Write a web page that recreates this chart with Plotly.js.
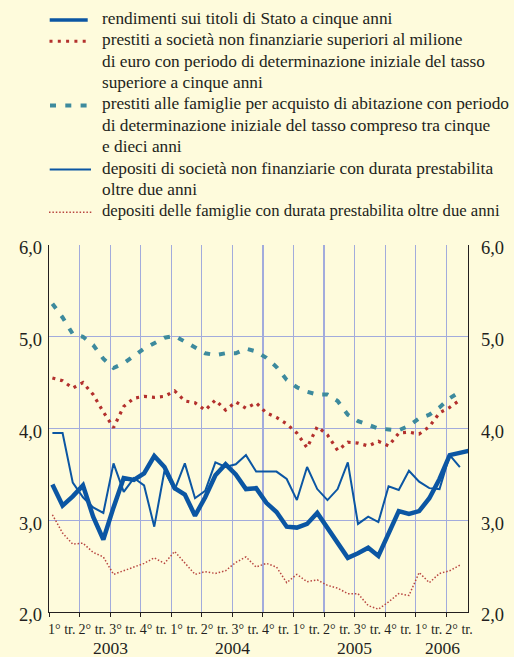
<!DOCTYPE html>
<html><head><meta charset="utf-8">
<script src="https://cdn.plot.ly/plotly-3.0.1.min.js"></script>
<style>html,body{margin:0;padding:0;background:#FEFBDC;}#chart{width:514px;height:657px;}</style>
</head><body><div id="chart"></div>
<script>
// Monthly data, Jan 2003 - Jun 2006 (percent)
const rendimentiTitoli = [3.39,3.16,3.26,3.38,3.04,2.79,3.14,3.46,3.44,3.51,3.70,3.58,3.35,3.28,3.05,3.25,3.49,3.61,3.50,3.34,3.35,3.19,3.09,2.93,2.92,2.96,3.08,2.91,2.76,2.59,2.64,2.70,2.61,2.85,3.10,3.07,3.10,3.24,3.45,3.71,3.74,3.76];
const prestitiSocieta = [4.55,4.52,4.44,4.50,4.37,4.18,4.01,4.24,4.33,4.35,4.34,4.35,4.41,4.30,4.28,4.20,4.31,4.20,4.29,4.22,4.28,4.17,4.12,4.05,3.95,3.79,4.02,3.93,3.76,3.85,3.84,3.81,3.86,3.81,3.95,3.96,3.94,4.02,4.17,4.23,4.31];
const prestitiFamiglie = [5.36,5.21,5.03,5.00,4.91,4.76,4.66,4.71,4.79,4.87,4.93,4.99,5.01,4.95,4.89,4.82,4.80,4.82,4.82,4.87,4.84,4.77,4.67,4.53,4.45,4.40,4.37,4.37,4.30,4.15,4.08,4.04,4.00,3.99,3.98,4.03,4.11,4.15,4.23,4.33,4.40];
const depositiSocieta = [3.95,3.95,3.41,3.25,3.14,3.08,3.62,3.31,3.46,3.38,2.93,3.54,3.33,3.62,3.24,3.32,3.63,3.58,3.61,3.71,3.53,3.53,3.53,3.45,3.22,3.58,3.34,3.22,3.34,3.63,2.96,3.04,2.98,3.37,3.33,3.54,3.42,3.35,3.34,3.71,3.58];
const depositiFamiglie = [3.06,2.86,2.74,2.75,2.65,2.60,2.41,2.45,2.49,2.53,2.59,2.53,2.66,2.53,2.41,2.44,2.42,2.45,2.54,2.60,2.49,2.53,2.49,2.32,2.41,2.33,2.35,2.29,2.26,2.20,2.20,2.07,2.03,2.11,2.20,2.18,2.43,2.32,2.42,2.45,2.51];

const quarterLabels = ["1° tr.","2° tr.","3° tr.","4° tr.","1° tr.","2° tr.","3° tr.","4° tr.","1° tr.","2° tr.","3° tr.","4° tr.","1° tr.","2° tr."];
const years = ["2003","2004","2005","2006"];
const yearCenters = [6, 18, 30, 38.65];
const yTicks = [2,3,4,5,6];

const legendLines = [
  "rendimenti sui titoli di Stato a cinque anni",
  "prestiti a società non finanziarie superiori al milione",
  "di euro con periodo di determinazione iniziale del tasso",
  "superiore a cinque anni",
  "prestiti alle famiglie per acquisto di abitazione con periodo",
  "di determinazione iniziale del tasso compreso tra cinque",
  "e dieci anni",
  "depositi di società non finanziarie con durata prestabilita",
  "oltre due anni",
  "depositi delle famiglie con durata prestabilita oltre due anni"
];

// layout geometry (pixels)
const L = 49, R = 46, T = 245, B = 45, WIDTH = 514, HEIGHT = 657;
const PW = WIDTH - L - R, PH = HEIGHT - T - B;
const px2x = p => (p - L) / PW;
const px2y = p => (T + PH - p) / PH;

const OFFSET = 1/3; // monthly points placed a third of a month into each month
const xOf = arr => arr.map((_, i) => i + OFFSET);

const BLUE = '#0B56A3', RED = '#B3302D', TEAL = '#3D8A9D', RED2 = '#B84640';
const TXT = '#231F20', GRID = '#A2ABDC';
const FONT = '"Liberation Serif", "Times New Roman", serif';

const traces = [
  {x: xOf(depositiFamiglie), y: depositiFamiglie, mode: 'lines', line: {color: RED2, width: 1.5, dash: '1.5px,1.9px'}},
  {x: xOf(prestitiFamiglie), y: prestitiFamiglie, mode: 'lines', line: {color: TEAL, width: 4, dash: '6px,9px'}},
  {x: xOf(prestitiSocieta), y: prestitiSocieta, mode: 'lines', line: {color: RED, width: 3.2, dash: '3px,5px'}},
  {x: xOf(depositiSocieta), y: depositiSocieta, mode: 'lines', line: {color: BLUE, width: 2}},
  {x: xOf(rendimentiTitoli), y: rendimentiTitoli, mode: 'lines', line: {color: BLUE, width: 4.5}},
  {x: [], y: [], yaxis: 'y2', mode: 'lines'}
];

const annotations = [];
const lineY = [];
for (let k = 0; k < legendLines.length; k++) lineY.push(18.5 + k * 21.37);
legendLines.forEach((t, k) => annotations.push({
  xref: 'paper', yref: 'paper', x: px2x(100), y: px2y(lineY[k]), xanchor: 'left', yanchor: 'middle',
  text: t, showarrow: false,
  font: {family: FONT, size: k === legendLines.length - 1 ? 16.7 : 17.3, color: TXT}
}));
years.forEach((t, k) => annotations.push({
  xref: 'x', yref: 'paper', x: yearCenters[k], y: px2y(648), xanchor: 'center', yanchor: 'middle',
  text: t, showarrow: false, font: {family: FONT, size: 17.5, color: TXT}
}));

const samples = [
  {line: 0, color: BLUE, width: 3.5, dash: 'solid', x0: 49.7, x1: 87.7},
  {line: 1, color: RED, width: 3, dash: '3px,5.3px', x0: 49.5, x1: 87.5},
  {line: 4, color: TEAL, width: 4, dash: '6px,9.3px', x0: 50, x1: 87.5},
  {line: 7, color: BLUE, width: 2, dash: 'solid', x0: 49.7, x1: 91},
  {line: 9, color: RED2, width: 1.5, dash: '1.5px,1.9px', x0: 49, x1: 92}
];
const shapes = samples.map(s => ({
  type: 'line', xref: 'paper', yref: 'paper',
  x0: px2x(s.x0), x1: px2x(s.x1), y0: px2y(lineY[s.line] + 1.5), y1: px2y(lineY[s.line] + 1.5),
  line: {color: s.color, width: s.width, dash: s.dash}
}));

const quarterMid = quarterLabels.map((_, k) => 1.5 + 3 * k - 0.25);

const layout = {
  width: WIDTH, height: HEIGHT,
  margin: {l: L, r: R, t: T, b: B, pad: 0},
  paper_bgcolor: '#FEFBDC', plot_bgcolor: '#FEFBDC',
  showlegend: false,
  separators: ',.',
  font: {family: FONT, color: TXT},
  xaxis: {
    range: [0, 41.13], showgrid: false, zeroline: false,
    showline: true, linecolor: TXT, linewidth: 1.2,
    tickmode: 'array', tickvals: quarterMid, ticktext: quarterLabels, ticks: '',
    tickfont: {family: FONT, size: 14, color: TXT}, ticklabelstandoff: 4,
    minor: {tick0: 0, dtick: 3, ticks: 'outside', ticklen: 4, tickcolor: TXT, tickwidth: 1, showgrid: true, gridcolor: GRID, gridwidth: 1.2}
  },
  yaxis: {
    range: [2, 6], tickmode: 'array', tickvals: yTicks, tickformat: '.1f',
    showgrid: true, gridcolor: GRID, gridwidth: 1.2, zeroline: false,
    showline: true, linecolor: TXT, linewidth: 1.2, ticks: '',
    tickfont: {family: FONT, size: 18.5, color: TXT}, ticklabelstandoff: 2, ticklabelshift: 3
  },
  yaxis2: {
    range: [2, 6], overlaying: 'y', side: 'right', tickmode: 'array', tickvals: yTicks, tickformat: '.1f',
    showgrid: false, zeroline: false, showline: true, linecolor: TXT, linewidth: 1.2, ticks: '',
    tickfont: {family: FONT, size: 18.5, color: TXT}, ticklabelstandoff: 8, ticklabelshift: 3
  },
  annotations: annotations,
  shapes: shapes
};

Plotly.newPlot('chart', traces, layout, {staticPlot: true, displayModeBar: false});
</script></body></html>
